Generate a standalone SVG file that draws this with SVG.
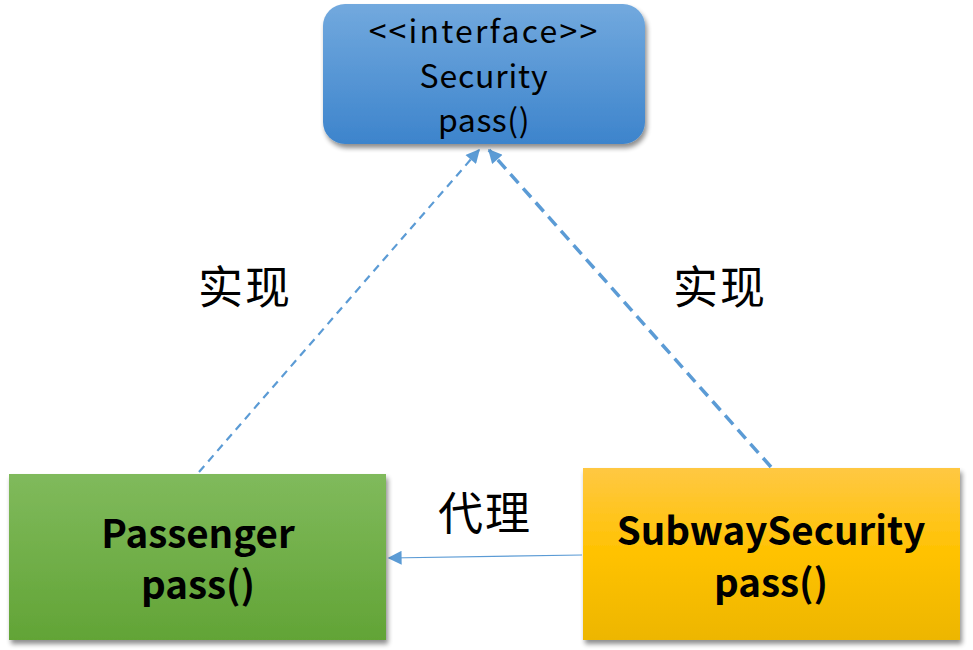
<svg xmlns="http://www.w3.org/2000/svg" width="973" height="650" viewBox="0 0 973 650">
<defs>
<linearGradient id="gBlue" x1="0" y1="0" x2="0" y2="1"><stop offset="0" stop-color="#72a9de"/><stop offset="1" stop-color="#3d84cc"/></linearGradient>
<linearGradient id="gGreen" x1="0" y1="0" x2="0" y2="1"><stop offset="0" stop-color="#80ba5c"/><stop offset="1" stop-color="#62a436"/></linearGradient>
<linearGradient id="gYellow" x1="0" y1="0" x2="0" y2="1"><stop offset="0" stop-color="#ffc843"/><stop offset="0.5" stop-color="#ffc200"/><stop offset="1" stop-color="#edb600"/></linearGradient>
<filter id="sh" x="-10%" y="-10%" width="125%" height="130%"><feGaussianBlur in="SourceAlpha" stdDeviation="2.5"/><feOffset dx="2" dy="4"/><feComponentTransfer><feFuncA type="linear" slope="0.45"/></feComponentTransfer><feMerge><feMergeNode/><feMergeNode in="SourceGraphic"/></feMerge></filter>
<marker id="ah2" viewBox="0 0 10 10" refX="9" refY="5" markerWidth="16" markerHeight="14" markerUnits="userSpaceOnUse" orient="auto"><path d="M0,0 L10,5 L0,10 z" fill="#5b9bd5"/></marker>
</defs>
<style>
.t{font-family:"Microsoft YaHei","Noto Sans CJK SC","Noto Sans",sans-serif;fill:#000;text-anchor:middle}
.r{font-size:32px}
.b{font-size:38.5px;font-weight:bold}
.l{font-size:45px;letter-spacing:2px}
</style>
<rect width="973" height="650" fill="#fff"/>
<g id="connectors">
<line x1="199" y1="472" x2="479" y2="150" stroke="#5b9bd5" stroke-width="2.2" stroke-dasharray="8,6" marker-end="url(#ah2)"/>
<line x1="771" y1="467" x2="489" y2="150" stroke="#5b9bd5" stroke-width="3.5" stroke-dasharray="12,7" marker-end="url(#ah2)"/>
<line x1="582" y1="555" x2="389" y2="558" stroke="#5b9bd5" stroke-width="1.2" marker-end="url(#ah2)"/>
</g>
<g id="security">
<rect x="323" y="4" width="322" height="140" rx="22" fill="url(#gBlue)" filter="url(#sh)"/>
<text class="t r" x="484" y="43" letter-spacing="2.2">&lt;&lt;interface&gt;&gt;</text>
<text class="t r" x="484" y="88" letter-spacing="0.8">Security</text>
<text class="t r" x="484" y="132" letter-spacing="0.5">pass()</text>
</g>
<g id="passenger">
<rect x="9" y="474" width="377" height="166" fill="url(#gGreen)" filter="url(#sh)"/>
<text class="t b" x="198" y="548">Passenger</text>
<text class="t b" x="198" y="599">pass()</text>
</g>
<g id="subwaysecurity">
<rect x="583" y="468" width="377" height="172" fill="url(#gYellow)" filter="url(#sh)"/>
<text class="t b" x="771" y="545">SubwaySecurity</text>
<text class="t b" x="771" y="597">pass()</text>
</g>
<g id="labels">
<text class="t l" x="245" y="304">实现</text>
<text class="t l" x="720" y="304">实现</text>
<text class="t l" x="485" y="530">代理</text>
</g>
</svg>
